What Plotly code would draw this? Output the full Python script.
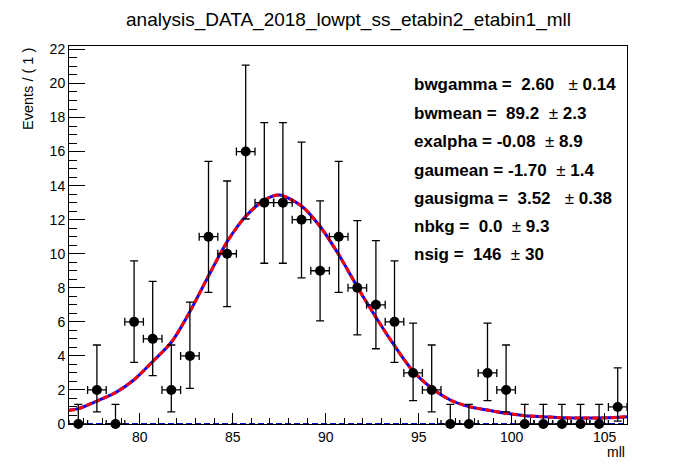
import plotly.graph_objects as go

# ---- data ----
bin_centers = [76.7, 77.7, 78.7, 79.7, 80.7, 81.7, 82.7, 83.7, 84.7, 85.7,
               86.7, 87.7, 88.7, 89.7, 90.7, 91.7, 92.7, 93.7, 94.7, 95.7,
               96.7, 97.7, 98.7, 99.7, 100.7, 101.7, 102.7, 103.7, 104.7, 105.7]
counts = [0, 2, 0, 6, 5, 2, 4, 11, 10, 16,
          13, 13, 12, 9, 11, 8, 7, 6, 3, 2,
          0, 0, 3, 2, 0, 0, 0, 0, 0, 1]
err_hi = [1.15, 2.64, 1.15, 3.58, 3.38, 2.64, 3.16, 4.42, 4.27, 5.08,
          4.70, 4.70, 4.56, 4.11, 4.42, 3.95, 3.77, 3.58, 2.92, 2.64,
          1.15, 1.15, 2.92, 2.64, 1.15, 1.15, 1.15, 1.15, 1.15, 2.30]
err_lo = [0.0, 1.29, 0.0, 2.38, 2.16, 1.29, 1.91, 3.27, 3.11, 3.96,
          3.56, 3.56, 3.42, 2.94, 3.27, 2.77, 2.58, 2.38, 1.63, 1.29,
          0.0, 0.0, 1.63, 1.29, 0.0, 0.0, 0.0, 0.0, 0.0, 0.83]
bin_half_width = 0.5

curve_x = [76.2, 76.7, 77.7, 78.7, 79.7, 80.7, 81.7, 82.7, 83.7, 84.7, 85.7,
           86.7, 87.5, 88.7, 89.7, 90.7, 91.7, 92.7, 93.7, 94.7, 95.7, 96.7,
           97.7, 98.7, 99.7, 100.7, 101.7, 102.7, 103.7, 104.7, 105.7, 106.2]
curve_y = [0.80, 0.90, 1.35, 1.84, 2.60, 3.67, 4.80, 6.60, 8.70, 10.70, 12.20,
           13.15, 13.45, 12.80, 11.60, 9.95, 8.05, 6.27, 4.60, 3.10, 2.10, 1.41,
           1.02, 0.82, 0.63, 0.49, 0.43, 0.37, 0.35, 0.35, 0.39, 0.43]

bkg_x = [76.2, 106.2]
bkg_y = [0.0, 0.0]

x_range = [76.2, 106.2]
y_range = [0, 22.2]

title_text = "analysis_DATA_2018_lowpt_ss_etabin2_etabin1_mll"
y_title = "Events / ( 1 )"
x_title = "mll"
param_lines = [
    ("bwgamma =  2.60", "0.14", 3),
    ("bwmean =  89.2", "2.3", 2),
    ("exalpha = -0.08", "8.9", 2),
    ("gaumean = -1.70", "1.4", 2),
    ("gausigma =  3.52", "0.38", 3),
    ("nbkg =  0.0", "9.3", 2),
    ("nsig =  146", "30", 2),
]

FONT = "Liberation Sans, Arial, Helvetica, sans-serif"

fig = go.Figure()

# background component (zero)
fig.add_trace(go.Scatter(x=bkg_x, y=bkg_y, mode="lines",
                         line=dict(color="#1010c8", width=2, dash="6px,3px"),
                         cliponaxis=False, showlegend=False, hoverinfo="skip"))

# total pdf: blue solid, red dashed on top
fig.add_trace(go.Scatter(x=curve_x, y=curve_y, mode="lines",
                         line=dict(color="#0000ff", width=3, shape="spline", smoothing=0.8),
                         showlegend=False, hoverinfo="skip"))
fig.add_trace(go.Scatter(x=curve_x, y=curve_y, mode="lines",
                         line=dict(color="#ff0000", width=3, shape="spline", smoothing=0.8,
                                   dash="6px,3px"),
                         showlegend=False, hoverinfo="skip"))

# data points
fig.add_trace(go.Scatter(
    x=bin_centers, y=counts, mode="markers",
    marker=dict(color="black", size=10, symbol="circle"),
    error_y=dict(type="data", symmetric=False, array=err_hi, arrayminus=err_lo,
                 color="black", thickness=1.3, width=4),
    error_x=dict(type="constant", value=bin_half_width, color="black",
                 thickness=1.3, width=4),
    cliponaxis=False, showlegend=False))

axis_common = dict(showline=True, linecolor="black", linewidth=1, mirror=True,
                   showgrid=False, zeroline=False, ticks="inside",
                   tickcolor="black", tickfont=dict(family=FONT, size=14, color="black"))

fig.update_xaxes(range=x_range, tickvals=[80, 85, 90, 95, 100, 105],
                 ticklen=11, tickwidth=1,
                 minor=dict(dtick=1, tick0=76, ticklen=6, ticks="inside", tickcolor="black"),
                 **axis_common)
fig.update_yaxes(range=y_range, tickvals=list(range(0, 23, 2)),
                 ticklen=16, tickwidth=1,
                 minor=dict(dtick=0.5, tick0=0, ticklen=8, ticks="inside", tickcolor="black"),
                 **axis_common)

# page offset of the figure inside the browser (body margin)
OFF = 8
PLOT_W = 557.7
PLOT_H = 378.0

annotations = []
annotations.append(dict(text=title_text, xref="paper", yref="paper",
                        x=(348 - 69) / PLOT_W, y=1 + (46 - 20) / PLOT_H,
                        xanchor="center", yanchor="middle",
                        showarrow=False, font=dict(family=FONT, size=19, color="black")))
annotations.append(dict(text=y_title, xref="paper", yref="paper",
                        x=(28 - 69) / PLOT_W, y=1.0, xanchor="center", yanchor="top",
                        textangle=-90, showarrow=False,
                        font=dict(family=FONT, size=14.5, color="black")))
annotations.append(dict(text=x_title, xref="paper", yref="paper",
                        x=1.0, y=-(452 - 424) / PLOT_H, xanchor="right", yanchor="middle",
                        showarrow=False, font=dict(family=FONT, size=14, color="black")))

line_centers_px = [85, 113.5, 141.5, 170, 198.3, 226.5, 254.5]
for (lhs, err, nsp), yc in zip(param_lines, line_centers_px):
    txt = "<b>" + lhs.replace(" ", "\u00a0") + "\u00a0" * nsp + "</b>" + "±" + "<b>\u00a0" + err + "</b>"
    annotations.append(dict(text=txt, xref="paper", yref="paper",
                            x=(411.5 - 69) / PLOT_W, y=(424 - yc) / PLOT_H,
                            xanchor="left", yanchor="middle", showarrow=False,
                            font=dict(family=FONT, size=17, color="black")))

fig.update_layout(width=696, height=472,
                  margin=dict(l=69 - OFF, r=696 - PLOT_W - (69 - OFF), t=46 - OFF,
                              b=472 - PLOT_H - (46 - OFF), autoexpand=False),
                  paper_bgcolor="white", plot_bgcolor="white",
                  annotations=annotations, showlegend=False)

fig.write_html("out.html")
